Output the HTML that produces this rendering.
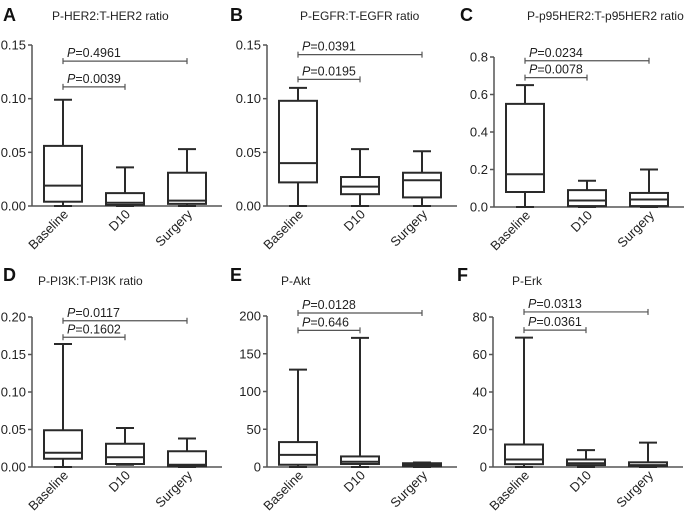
<!DOCTYPE html>
<html><head><meta charset="utf-8"><style>
body{margin:0;background:#fff;}
svg{display:block;font-family:"Liberation Sans",sans-serif;}
</style></head><body>
<svg id="chart" width="685" height="514" viewBox="0 0 685 514"></svg>
<script>
const categories = ["Baseline","D10","Surgery"];
const panelLetters = ["A","B","C","D","E","F"];
const panelTitles = ["P-HER2:T-HER2 ratio","P-EGFR:T-EGFR ratio","P-p95HER2:T-p95HER2 ratio","P-PI3K:T-PI3K ratio","P-Akt","P-Erk"];
const yMaxes = [0.15,0.15,0.8,0.2,200,80];
const tickLabels = [
 ["0.00","0.05","0.10","0.15"],
 ["0.00","0.05","0.10","0.15"],
 ["0.0","0.2","0.4","0.6","0.8"],
 ["0.00","0.05","0.10","0.15","0.20"],
 ["0","50","100","150","200"],
 ["0","20","40","60","80"]];
// [min, q1, median, q3, max] per category
const boxesA = [[0,0.004,0.019,0.056,0.099],[0,0.001,0.003,0.012,0.036],[0,0.002,0.005,0.031,0.053]];
const boxesB = [[0,0.022,0.040,0.098,0.110],[0,0.011,0.018,0.027,0.053],[0,0.008,0.024,0.031,0.051]];
const boxesC = [[0,0.08,0.175,0.55,0.65],[0,0.005,0.035,0.09,0.14],[0,0.005,0.04,0.075,0.2]];
const boxesD = [[0,0.011,0.019,0.049,0.164],[0.003,0.004,0.013,0.031,0.052],[0,0.001,0.003,0.021,0.038]];
const boxesE = [[0,3,16,33,129],[0,4,7,14,171],[0,1,3,5,6]];
const boxesF = [[0,1.5,4,12,69],[0,1,2,4,9],[0,0.5,1,2.5,13]];
const pD10 = ["0.0039","0.0195","0.0078","0.1602","0.646","0.0361"];
const pSurgery = ["0.4961","0.0391","0.0234","0.0117","0.0128","0.0313"];
const bracketD10Y = [0.111,0.118,0.69,0.173,181,73];
const bracketSurgY = [0.135,0.141,0.78,0.195,204,82.7];

const layout = [
 {ox:0,axisX:32,yTop:45,yZero:206,lx:3,ly:21,tx:52,ty:20},
 {ox:228,axisX:267,yTop:45,yZero:206,lx:230,ly:21,tx:300,ty:20},
 {ox:456,axisX:494,yTop:57,yZero:207,lx:460,ly:21,tx:527,ty:20},
 {ox:0,axisX:32,yTop:317,yZero:467,lx:3,ly:281,tx:38,ty:285},
 {ox:228,axisX:267,yTop:316,yZero:467,lx:230,ly:281,tx:281,ty:285},
 {ox:456,axisX:493,yTop:317,yZero:467,lx:457,ly:281,tx:512,ty:285}];
const allBoxes=[boxesA,boxesB,boxesC,boxesD,boxesE,boxesF];
const svg=document.getElementById('chart');
const NS='http://www.w3.org/2000/svg';
function mk(tag,attrs,parent){const e=document.createElementNS(NS,tag);for(const k in attrs)e.setAttribute(k,attrs[k]);parent.appendChild(e);return e;}

allBoxes.forEach((boxes,p)=>{
 const L=layout[p];
 const g=mk('g',{},svg);
 
 
 const y=v=>L.yZero-(v/yMaxes[p])*(L.yZero-L.yTop);
 const x=i=>L.axisX+31+i*62;
 const let_=mk('text',{x:L.lx,y:L.ly,'font-size':18,'font-weight':'bold',fill:'#111'},g);
 let_.textContent=panelLetters[p];
 
 
 const t=mk('text',{x:L.tx,y:L.ty,'font-size':12,fill:'#222'},g);
 t.textContent=panelTitles[p];
 
 
 const ya=mk('line',{x1:L.axisX,y1:L.yTop,x2:L.axisX,y2:L.yZero,stroke:'#555','stroke-width':1.5},g);
 
 
 const xa=mk('line',{x1:L.axisX,y1:L.yZero,x2:L.axisX+190,y2:L.yZero,stroke:'#555','stroke-width':1.5},g);
 
 
 const ticks=tickLabels[p];
 ticks.forEach((lab,k)=>{
  const v=yMaxes[p]*k/(ticks.length-1);
  mk('line',{x1:L.axisX-4,y1:y(v),x2:L.axisX,y2:y(v),stroke:'#555','stroke-width':1.5},g);
  const tt=mk('text',{x:L.axisX-6,y:y(v)+4.5,'font-size':13,'text-anchor':'end',fill:'#222'},g);
  tt.textContent=lab;
  
  
 });
 categories.forEach((c,i)=>{
  const cl=mk('text',{transform:`translate(${x(i)+6},${L.yZero+9}) rotate(-45)`,'font-size':13,'text-anchor':'end',fill:'#222'},g);
  cl.textContent=c;
  
  
 });
 boxes.forEach((b,i)=>{
  const bg=mk('g',{stroke:'#2a2a2a','stroke-width':2,fill:'none'},g);
  
  
  const cx=x(i),hw=19;
  mk('line',{x1:cx,y1:y(b[4]),x2:cx,y2:y(b[3])},bg);
  mk('line',{x1:cx,y1:y(b[1]),x2:cx,y2:y(b[0])},bg);
  mk('line',{x1:cx-9,y1:y(b[4]),x2:cx+9,y2:y(b[4])},bg);
  mk('line',{x1:cx-9,y1:y(b[0]),x2:cx+9,y2:y(b[0])},bg);
  mk('rect',{x:cx-hw,y:y(b[3]),width:2*hw,height:Math.max(0.5,y(b[1])-y(b[3]))},bg);
  mk('line',{x1:cx-hw,y1:y(b[2]),x2:cx+hw,y2:y(b[2])},bg);
 });
 [[bracketD10Y[p],1,pD10[p]],[bracketSurgY[p],2,pSurgery[p]]].forEach(([bv,j,pv])=>{
  const bg=mk('g',{stroke:'#555','stroke-width':1.2},g);
  
  
  const yy=y(bv),x1=x(0),x2=x(j);
  mk('line',{x1:x1,y1:yy,x2:x2,y2:yy},bg);
  mk('line',{x1:x1,y1:yy-3,x2:x1,y2:yy+3},bg);
  mk('line',{x1:x2,y1:yy-3,x2:x2,y2:yy+3},bg);
  const pt=mk('text',{x:x1+4,y:yy-4,'font-size':12.5,fill:'#222'},g);
  pt.innerHTML='<tspan font-style="italic">P</tspan>=' + pv;
  
  
 });
});
</script>
</body></html>
